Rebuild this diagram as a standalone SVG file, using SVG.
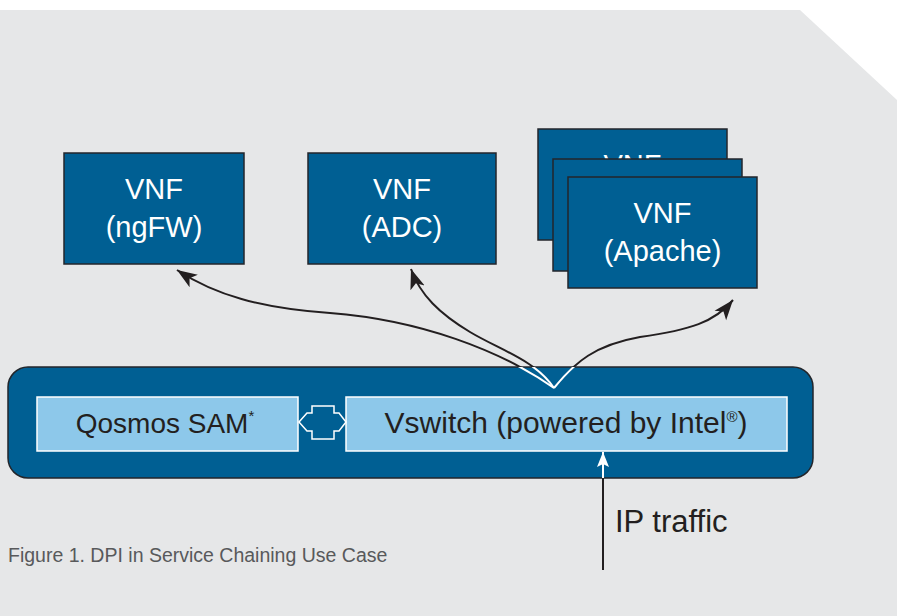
<svg xmlns="http://www.w3.org/2000/svg" width="897" height="616" viewBox="0 0 897 616">
<style>
.vnf{fill:#005f93;stroke:#23262b;stroke-width:1.5}
.vt{font-family:"Liberation Sans",Arial,sans-serif;font-size:29px;fill:#ffffff;text-anchor:middle}
.lb{fill:#8dc8ea;stroke:#ffffff;stroke-width:1.5}
.dt{font-family:"Liberation Sans",Arial,sans-serif;font-size:28px;fill:#231f20;text-anchor:middle}
.cb{fill:none;stroke:#231f20;stroke-width:2}
.cw{fill:none;stroke:#ffffff;stroke-width:2}
</style>
<defs>
<marker id="ah" markerUnits="userSpaceOnUse" markerWidth="22" markerHeight="18" viewBox="0 0 22 18" refX="20" refY="9" orient="auto">
<path d="M0,1.5 L20,9 L0,16.5 L5,9 z" fill="#231f20"/>
</marker>
<marker id="ahw" markerUnits="userSpaceOnUse" markerWidth="16" markerHeight="14" viewBox="0 0 16 14" refX="15" refY="7" orient="auto">
<path d="M0,1 L15,7 L0,13 L3,7 z" fill="#ffffff"/>
</marker>
<clipPath id="above"><rect x="0" y="0" width="897" height="367"/></clipPath>
<clipPath id="inside"><rect x="0" y="367" width="897" height="111"/></clipPath>
<clipPath id="below"><rect x="0" y="478" width="897" height="138"/></clipPath>
<path id="c1" d="M554,388 C500,350 420,320 330,313 C260,308 215,295 177,270"/>
<path id="c2" d="M554,388 C535,360 500,350 470,332 C440,314 420,295 411,269"/>
<path id="c3" d="M554,388 C575,362 595,345 640,337 C690,330 715,322 733,300"/>
<path id="c4" d="M603,570 L603,452"/>
</defs>
<polygon points="0,10 800,10 897,100 897,616 0,616" fill="#e6e7e8"/>

<g id="vnf-ngfw">
<rect class="vnf" x="64" y="153" width="180" height="111"/>
<text class="vt" x="154" y="199">VNF</text>
<text class="vt" x="154" y="237">(ngFW)</text>
</g>
<g id="vnf-adc">
<rect class="vnf" x="308" y="153" width="188" height="111"/>
<text class="vt" x="402" y="199">VNF</text>
<text class="vt" x="402" y="237">(ADC)</text>
</g>
<g id="vnf-apache">
<rect class="vnf" x="538" y="129" width="189" height="111"/>
<text class="vt" x="632.5" y="175">VNF</text>
<rect class="vnf" x="553" y="159" width="189" height="112"/>
<rect class="vnf" x="568" y="177" width="189" height="111"/>
<text class="vt" x="662.5" y="223">VNF</text>
<text class="vt" x="662.5" y="261">(Apache)</text>
</g>

<g id="host">
<rect x="8" y="367" width="805" height="111" rx="20" ry="20" fill="#005f93" stroke="#23262b" stroke-width="1.5"/>
</g>
<g id="qosmos">
<rect class="lb" x="37" y="397" width="261" height="54"/>
<text class="dt" x="165" y="433">Qosmos SAM<tspan font-size="15" dy="-12">*</tspan></text>
</g>
<g id="vswitch">
<rect class="lb" x="346" y="397" width="441" height="54"/>
<text class="dt" x="566" y="433" style="font-size:30px">Vswitch (powered by Intel<tspan style="font-size:15px" dy="-11">®</tspan><tspan dy="11">)</tspan></text>
</g>

<g id="connectors">
<polygon points="312,406 334,406 334,413 339,413 346,422 339,431 334,431 334,439 312,439 312,431 307,431 299,422 307,413 312,413" fill="none" stroke="#ffffff" stroke-width="1.5"/>
<g clip-path="url(#above)">
<use href="#c1" class="cb" marker-end="url(#ah)"/>
<use href="#c2" class="cb" marker-end="url(#ah)"/>
<use href="#c3" class="cb" marker-end="url(#ah)"/>
</g>
<g clip-path="url(#inside)">
<use href="#c1" class="cw"/>
<use href="#c2" class="cw"/>
<use href="#c3" class="cw"/>
<use href="#c4" class="cw" marker-end="url(#ahw)"/>
</g>
<g clip-path="url(#below)">
<use href="#c4" class="cb"/>
</g>
</g>

<text x="615" y="532" font-family="'Liberation Sans',Arial,sans-serif" font-size="31" fill="#231f20">IP traffic</text>
<text x="8" y="562" font-family="'Liberation Sans',Arial,sans-serif" font-size="19.5" fill="#58595b">Figure 1. DPI in Service Chaining Use Case</text>
</svg>
